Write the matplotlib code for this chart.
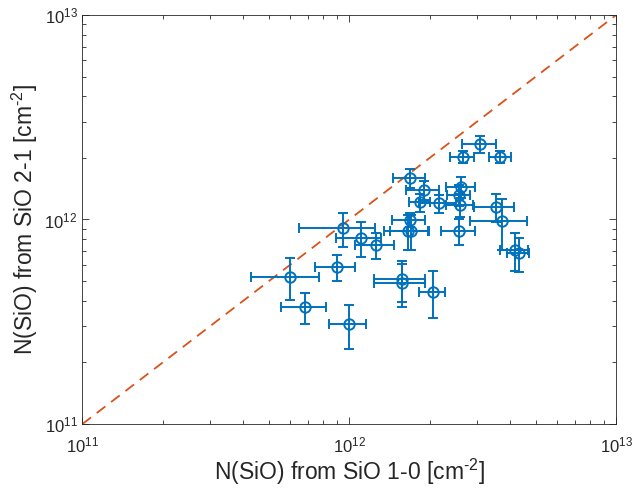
import matplotlib
matplotlib.use("Agg")
import matplotlib.pyplot as plt
import numpy as np

plt.rcParams['font.family'] = ['Liberation Sans', 'DejaVu Sans']
plt.rcParams['mathtext.fontset'] = 'custom'
plt.rcParams['mathtext.rm'] = 'Liberation Sans'
plt.rcParams['mathtext.it'] = 'Liberation Sans:italic'

# N(SiO) values in units of 1e12 cm^-2
n10 = [0.599, 0.896, 0.685, 0.998, 1.573, 1.573, 2.06, 1.686, 1.906, 1.837,
       2.17, 2.63, 2.58, 2.594, 1.686, 1.656, 1.70, 2.58, 3.083, 2.655,
       3.68, 3.54, 3.735, 4.17, 4.31, 0.948, 1.104, 1.257]
n10_err = [0.17, 0.15, 0.13, 0.16, 0.34, 0.34, 0.23, 0.23, 0.27, 0.17,
           0.35, 0.32, 0.25, 0.30, 0.235, 0.31, 0.28, 0.38, 0.45, 0.28,
           0.34, 0.60, 0.90, 0.50, 0.40, 0.30, 0.21, 0.21]
n21 = [0.525, 0.588, 0.372, 0.307, 0.510, 0.488, 0.444, 1.590, 1.394, 1.214,
       1.200, 1.446, 1.318, 1.177, 0.994, 0.879, 0.879, 0.881, 2.34, 2.03,
       2.03, 1.155, 0.983, 0.709, 0.686, 0.906, 0.815, 0.750]
n21_err = [0.12, 0.085, 0.063, 0.075, 0.115, 0.115, 0.115, 0.17, 0.15, 0.12,
           0.12, 0.17, 0.15, 0.15, 0.08, 0.17, 0.17, 0.13, 0.22, 0.14,
           0.14, 0.18, 0.27, 0.15, 0.13, 0.17, 0.16, 0.11]

x = np.array(n10) * 1e12
xe = np.array(n10_err) * 1e12
y = np.array(n21) * 1e12
ye = np.array(n21_err) * 1e12

blue = '#0072BD'
orange = '#D95319'
dark = '#262626'

fig = plt.figure(figsize=(6.34, 4.94), dpi=100)
ax = fig.add_axes([0.130, 0.1417, 0.842, 0.828])

ax.plot([1e11, 1e13], [1e11, 1e13], '--', color=orange, lw=1.3, dashes=(6, 4))
ax.errorbar(x, y, xerr=xe, yerr=ye, fmt='o', color=blue, mfc='none',
            mec=blue, ms=7.5, mew=1.4, elinewidth=1.4, capsize=3.6, capthick=1.4)

ax.set_xscale('log')
ax.set_yscale('log')
ax.set_xlim(1e11, 1e13)
ax.set_ylim(1e11, 1e13)
ax.set_xticks([1e11, 1e12, 1e13])
ax.set_yticks([1e11, 1e12, 1e13])

ax.tick_params(which='both', direction='in', top=True, right=True,
               colors=dark, labelsize=12, width=0.6)
ax.tick_params(which='major', length=5)
ax.tick_params(which='minor', length=3)
ax.tick_params(axis='x', pad=8)
for s in ax.spines.values():
    s.set_color(dark)
    s.set_linewidth(0.6)

ax.set_xlabel(r'N(SiO) from SiO 1-0 [cm$^{\text{-2}}$]', fontsize=16.5,
              color=dark, labelpad=1)
ax.set_ylabel(r'N(SiO) from SiO 2-1 [cm$^{\text{-2}}$]', fontsize=16.5,
              color=dark, labelpad=3)

fig.savefig('out.png', dpi=100)
